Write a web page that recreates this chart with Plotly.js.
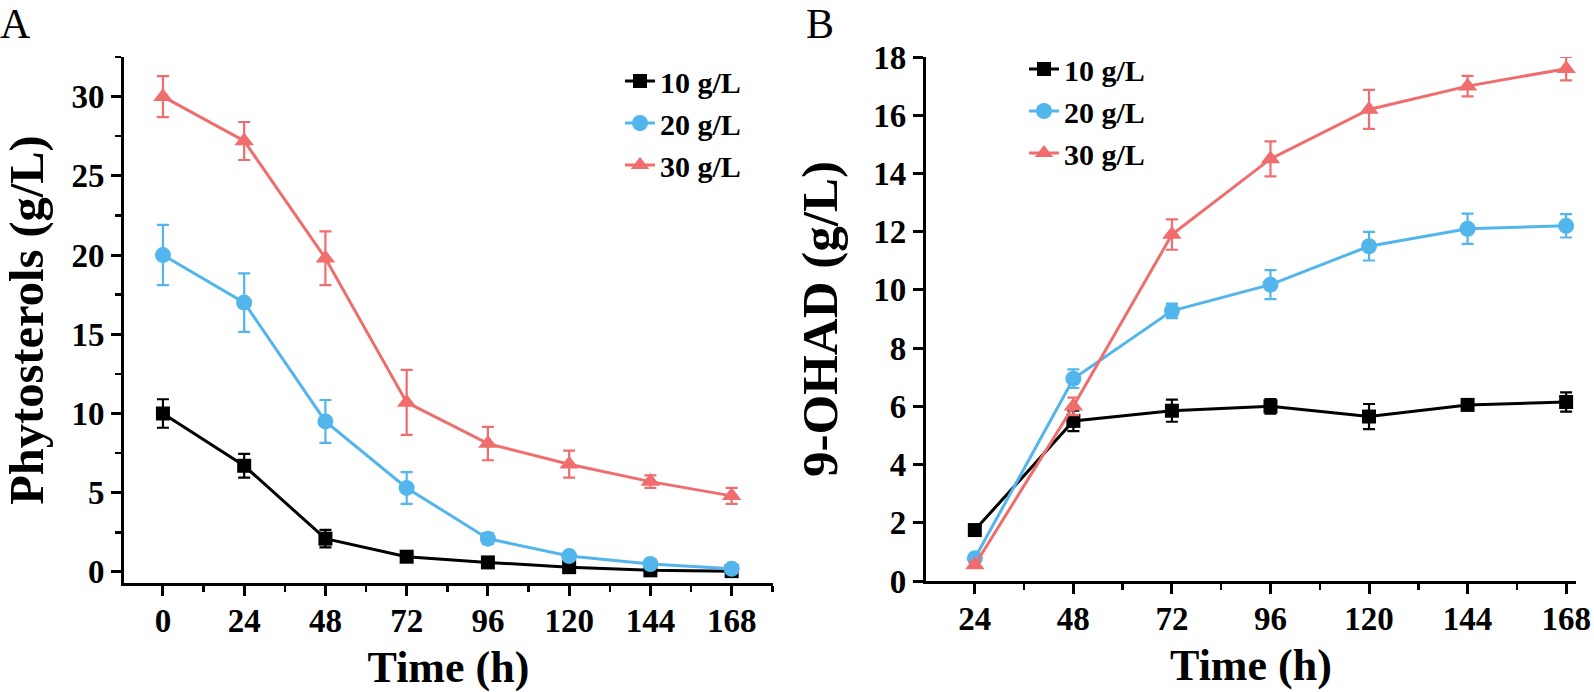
<!DOCTYPE html>
<html>
<head>
<meta charset="utf-8">
<script src="https://cdn.plot.ly/plotly-3.0.1.min.js"></script>
<style>
  html, body { margin: 0; padding: 0; background: #ffffff; }
  #chart { width: 1594px; height: 692px; }
</style>
</head>
<body>
<div id="chart"></div>
<script>
// ---------- Data ----------
const seriesNames = ['10 g/L', '20 g/L', '30 g/L'];

// Panel A: phytosterols remaining (g/L)
const timeA = [0, 24, 48, 72, 96, 120, 144, 168];
const phyto10 = [10.0, 6.7, 2.1, 0.96, 0.6, 0.3, 0.1, 0.05];
const phyto10Err = [0.9, 0.75, 0.55, 0.25, 0.15, 0.1, 0.05, 0.05];
const phyto20 = [20.0, 17.0, 9.5, 5.3, 2.1, 1.0, 0.5, 0.2];
const phyto20Err = [1.9, 1.85, 1.35, 1.0, 0.35, 0.2, 0.15, 0.1];
const phyto30 = [30.0, 27.2, 19.8, 10.7, 8.1, 6.8, 5.7, 4.8];
const phyto30Err = [1.3, 1.2, 1.7, 2.05, 1.05, 0.85, 0.4, 0.5];

// Panel B: 9-OHAD produced (g/L)
const timeB = [24, 48, 72, 96, 120, 144, 168];
const ohad10 = [1.75, 5.5, 5.85, 6.0, 5.65, 6.05, 6.15];
const ohad10Err = [0.15, 0.35, 0.38, 0.25, 0.43, 0.15, 0.33];
const ohad20 = [0.78, 6.95, 9.28, 10.18, 11.5, 12.1, 12.2];
const ohad20Err = [0.1, 0.32, 0.25, 0.5, 0.49, 0.52, 0.4];
const ohad30 = [0.55, 6.0, 11.9, 14.5, 16.2, 17.0, 17.6];
const ohad30Err = [0.1, 0.3, 0.52, 0.6, 0.67, 0.35, 0.4];

// ---------- Styling ----------
const colors = ['#000000', '#52B5EC', '#EF6D6D'];
const symbols = ['square', 'circle', 'triangle-up'];
const sizes = [14, 16, 17];
const FONT = 'Liberation Serif, Times New Roman, serif';

function makeTrace(x, y, err, i, xa, ya, legendName) {
  return {
    type: 'scatter', mode: 'lines+markers',
    x: x, y: y, name: seriesNames[i],
    xaxis: xa, yaxis: ya, legend: legendName,
    cliponaxis: false,
    line: { color: colors[i], width: 3 },
    marker: { color: colors[i], symbol: symbols[i], size: sizes[i] },
    error_y: { type: 'data', array: err, visible: true, color: colors[i], thickness: 2.2, width: 6 }
  };
}

const data = [
  makeTrace(timeA, phyto10, phyto10Err, 0, 'x', 'y', 'legend'),
  makeTrace(timeA, phyto20, phyto20Err, 1, 'x', 'y', 'legend'),
  makeTrace(timeA, phyto30, phyto30Err, 2, 'x', 'y', 'legend'),
  makeTrace(timeB, ohad10, ohad10Err, 0, 'x2', 'y2', 'legend2'),
  makeTrace(timeB, ohad20, ohad20Err, 1, 'x2', 'y2', 'legend2'),
  makeTrace(timeB, ohad30, ohad30Err, 2, 'x2', 'y2', 'legend2')
];

const tickFont = { family: FONT, size: 33, color: '#000', weight: 'bold' };
const xTitleFont = { family: FONT, size: 44, color: '#000', weight: 'bold' };

function axisBase() {
  return {
    showline: true, linecolor: '#000', linewidth: 3,
    ticks: 'outside', ticklen: 10, tickwidth: 3, tickcolor: '#000',
    showgrid: false, zeroline: false, tickfont: tickFont,
    fixedrange: true
  };
}

const layout = {
  width: 1594, height: 692,
  margin: { l: 0, r: 0, t: 0, b: 0 },
  paper_bgcolor: '#ffffff', plot_bgcolor: '#ffffff',
  font: { family: FONT, color: '#000' },
  showlegend: true,
  xaxis: Object.assign(axisBase(), {
    domain: [0.0778, 0.4849], anchor: 'y', range: [-11.5, 180.2],
    tick0: 0, dtick: 24, ticklabelstandoff: -4,
    minor: { ticks: 'outside', dtick: 12, ticklen: 6, tickwidth: 2.5, tickcolor: '#000', showgrid: false },
    title: { text: 'Time (h)', font: xTitleFont, standoff: 14 }
  }),
  yaxis: Object.assign(axisBase(), {
    domain: [0.1575, 0.9176], anchor: 'x', range: [-0.7, 32.5],
    tick0: 0, dtick: 5,
    minor: { ticks: 'outside', dtick: 2.5, ticklen: 6, tickwidth: 2.5, tickcolor: '#000', showgrid: false },
    title: { text: 'Phytosterols (g/L)', font: { family: FONT, size: 48.5, color: '#000', weight: 'bold' }, standoff: 22 }
  }),
  xaxis2: Object.assign(axisBase(), {
    domain: [0.5809, 0.9887], anchor: 'y2', range: [12.1, 170.4],
    tick0: 0, dtick: 24, ticklabelstandoff: -4,
    minor: { ticks: 'outside', dtick: 12, ticklen: 6, tickwidth: 2.5, tickcolor: '#000', showgrid: false },
    title: { text: 'Time (h)', font: xTitleFont, standoff: 14 }
  }),
  yaxis2: Object.assign(axisBase(), {
    domain: [0.1604, 0.9176], anchor: 'x2', range: [0, 18],
    tick0: 0, dtick: 2,
    title: { text: '9-OHAD (g/L)', font: { family: FONT, size: 51, color: '#000', weight: 'bold' }, standoff: 20 }
  }),
  legend: {
    x: 620 / 1594, y: 1 - 55 / 692, xanchor: 'left', yanchor: 'top',
    bgcolor: 'rgba(0,0,0,0)', borderwidth: 0,
    font: { family: FONT, size: 30, color: '#000', weight: 'bold' },
    tracegroupgap: 0
  },
  legend2: {
    x: 1024 / 1594, y: 1 - 43 / 692, xanchor: 'left', yanchor: 'top',
    bgcolor: 'rgba(0,0,0,0)', borderwidth: 0,
    font: { family: FONT, size: 30, color: '#000', weight: 'bold' },
    tracegroupgap: 0
  },
  annotations: [
    { text: 'A', xref: 'paper', yref: 'paper', x: 0, y: 1, xanchor: 'left', yanchor: 'top',
      showarrow: false, font: { family: FONT, size: 42, color: '#000' }, yshift: 1, xshift: -2 },
    { text: 'B', xref: 'paper', yref: 'paper', x: 806 / 1594, y: 1, xanchor: 'left', yanchor: 'top',
      showarrow: false, font: { family: FONT, size: 42, color: '#000' }, yshift: 1, xshift: -2 }
  ]
};

Plotly.newPlot('chart', data, layout, { staticPlot: true, displayModeBar: false });
</script>
</body>
</html>
